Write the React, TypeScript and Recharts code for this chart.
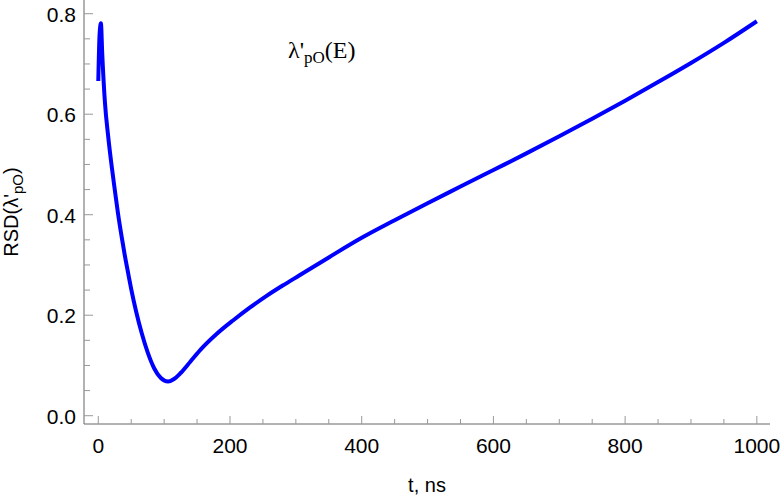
import { LineChart, Line, XAxis, YAxis, Customized } from "recharts";

// time, ns
const tValues = [
  0, 2, 4, 6, 10, 15, 20, 25, 30, 35, 40, 45, 50, 57, 66, 75, 85, 95, 106, 115,
  125, 140, 155, 180, 205, 230, 255, 280, 305, 350, 400, 450, 500, 550, 600,
  650, 700, 750, 800, 850, 900, 950, 1000,
];
// RSD(λ'pO)
const rsdValues = [
  0.666, 0.76, 0.781, 0.72, 0.625, 0.556, 0.5, 0.45, 0.402, 0.36, 0.321, 0.286,
  0.252, 0.21, 0.164, 0.126, 0.094, 0.075, 0.068, 0.073, 0.085, 0.108, 0.131,
  0.163, 0.19, 0.215, 0.238, 0.259, 0.279, 0.315, 0.354, 0.389, 0.423, 0.456,
  0.489, 0.522, 0.556, 0.591, 0.627, 0.664, 0.702, 0.742, 0.785,
];

const xMajorTicks = [0, 200, 400, 600, 800, 1000];
const xTicks = [
  0, 50, 100, 150, 200, 250, 300, 350, 400, 450, 500, 550, 600, 650, 700, 750,
  800, 850, 900, 950, 1000,
];
const yMajorTicks = [0, 0.2, 0.4, 0.6, 0.8];
const yTicks = [
  0, 0.05, 0.1, 0.15, 0.2, 0.25, 0.3, 0.35, 0.4, 0.45, 0.5, 0.55, 0.6, 0.65,
  0.7, 0.75, 0.8,
];

const data = tValues.map((t, i) => ({ t, rsd: rsdValues[i] }));

const FONT = "'Liberation Sans', Arial, sans-serif";
const isMajor = (list: number[], v: number) =>
  list.some((m) => Math.abs(m - v) < 1e-9);

const XTick = (props: any) => {
  const { x, y, payload } = props;
  const major = isMajor(xMajorTicks, payload.value);
  return (
    <g>
      <line x1={x} y1={y} x2={x} y2={y - (major ? 8 : 5)} stroke="#999" strokeWidth={1} />
      {major && (
        <text x={x} y={y + 29} textAnchor="middle" fontSize={21} fontFamily={FONT} fill="#000">
          {payload.value}
        </text>
      )}
    </g>
  );
};

const YTick = (props: any) => {
  const { x, y, payload } = props;
  const major = isMajor(yMajorTicks, payload.value);
  return (
    <g>
      <line x1={x} y1={y} x2={x + (major ? 9 : 6)} y2={y} stroke="#999" strokeWidth={1} />
      {major && (
        <text x={x - 8} y={y + 8} textAnchor="end" fontSize={21} fontFamily={FONT} fill="#000">
          {payload.value.toFixed(1)}
        </text>
      )}
    </g>
  );
};

const Title = () => (
  <text x={288} y={58} fontFamily="'Liberation Serif', 'Times New Roman', serif" fontSize={24} fill="#000">
    λ'
    <tspan dy={5} fontSize={17}>pO</tspan>
    <tspan dy={-5}>(E)</tspan>
  </text>
);

const YLabel = () => (
  <text
    transform="translate(18, 212) rotate(-90)"
    textAnchor="middle"
    fontFamily={FONT}
    fontSize={20}
    fill="#000"
  >
    RSD(λ'
    <tspan dy={5} fontSize={15}>pO</tspan>
    <tspan dy={-5}>)</tspan>
  </text>
);

const XLabel = () => (
  <text x={427} y={492} textAnchor="middle" fontFamily={FONT} fontSize={20} fill="#000">
    t, ns
  </text>
);

export default function App() {
  return (
    <div style={{ position: "absolute", left: 0, top: 0, background: "#fff" }}>
      <LineChart
        width={781}
        height={500}
        data={data}
        margin={{ top: 0, right: 11, bottom: 0, left: 0 }}
      >
        <XAxis
          dataKey="t"
          type="number"
          domain={[-21.7, 1020]}
          ticks={xTicks}
          interval={0}
          allowDataOverflow
          height={76}
          tickSize={0}
          tickMargin={0}
          tickLine={false}
          axisLine={{ stroke: "#666", strokeWidth: 1 }}
          tick={<XTick />}
        />
        <YAxis
          type="number"
          domain={[-0.0165, 0.8273]}
          ticks={yTicks}
          interval={0}
          allowDataOverflow
          width={84}
          tickSize={0}
          tickMargin={0}
          tickLine={false}
          axisLine={{ stroke: "#666", strokeWidth: 1 }}
          tick={<YTick />}
        />
        <Line
          dataKey="rsd"
          type="monotone"
          stroke="#0000ff"
          strokeWidth={4}
          dot={false}
          isAnimationActive={false}
        />
        <Customized component={Title} />
        <Customized component={YLabel} />
        <Customized component={XLabel} />
      </LineChart>
    </div>
  );
}
